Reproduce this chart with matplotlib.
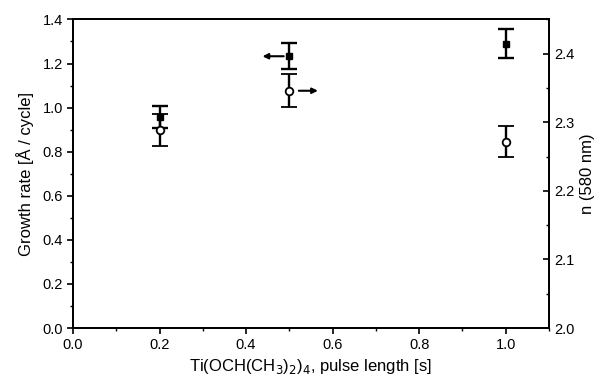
import matplotlib
matplotlib.use("Agg")
import matplotlib.pyplot as plt
from matplotlib.ticker import MultipleLocator, FormatStrFormatter

plt.rcParams['font.family'] = ['Liberation Sans', 'DejaVu Sans']
plt.rcParams['font.size'] = 10.5

# Pulse length of the Ti precursor [s]
pulse = [0.2, 0.5, 1.0]
# Growth rate [Å/cycle] with errors
growth = [0.958, 1.233, 1.29]
growth_err = [0.05, 0.06, 0.065]
# Refractive index at 580 nm with errors
n_idx = [2.289, 2.346, 2.272]
n_err = [0.023, 0.024, 0.022]

fig = plt.figure(figsize=(5.98, 3.81), dpi=100)
ax = fig.add_axes([0.122, 0.139, 0.796, 0.810])
ax2 = ax.twinx()

ax.errorbar(pulse, growth, yerr=growth_err, fmt='s', color='black',
            ms=5, capsize=5.5, capthick=1.7, elinewidth=1.7, zorder=3)
ax2.errorbar(pulse, n_idx, yerr=n_err, fmt='o', color='black', mfc='white',
             mec='black', mew=1.3, ms=5.5, capsize=5.5, capthick=1.7,
             elinewidth=1.7, zorder=3)

ax.set_xlim(0.0, 1.1)
ax.set_ylim(0.0, 1.4)
ax2.set_ylim(2.0, 2.45)

ax.xaxis.set_major_locator(MultipleLocator(0.2))
ax.xaxis.set_minor_locator(MultipleLocator(0.1))
ax.yaxis.set_major_locator(MultipleLocator(0.2))
ax.yaxis.set_minor_locator(MultipleLocator(0.1))
ax2.set_yticks([2.0, 2.1, 2.2, 2.3, 2.4])
ax2.yaxis.set_minor_locator(MultipleLocator(0.05))

for axis in (ax.xaxis, ax.yaxis, ax2.yaxis):
    axis.set_major_formatter(FormatStrFormatter('%.1f'))

ax.tick_params(axis='both', which='major', direction='out', length=4, width=1.2, pad=3)
ax.tick_params(axis='both', which='minor', direction='out', length=2.5, width=1.0)
ax.tick_params(top=False, which='both')
ax2.tick_params(axis='y', which='major', direction='in', length=4, width=1.2, pad=4)
ax2.tick_params(axis='y', which='minor', direction='in', length=2.5, width=1.0)

for a in (ax, ax2):
    for s in a.spines.values():
        s.set_linewidth(1.3)

ax.set_xlabel('Ti(OCH(CH$_3$)$_2$)$_4$, pulse length [s]', fontsize=12, labelpad=4)
ax.set_ylabel('Growth rate [Å / cycle]', fontsize=12, labelpad=6)
ax2.set_ylabel('n (580 nm)', fontsize=12, labelpad=4)

# Arrows indicating which axis each series belongs to
ax.annotate('', xy=(0.438, growth[1]), xytext=(0.487, growth[1]),
            arrowprops=dict(arrowstyle='-|>', color='black', lw=1.5,
                            mutation_scale=8, shrinkA=0, shrinkB=0))
ax2.annotate('', xy=(0.566, n_idx[1]), xytext=(0.522, n_idx[1]),
             arrowprops=dict(arrowstyle='-|>', color='black', lw=1.5,
                             mutation_scale=8, shrinkA=0, shrinkB=0))

fig.savefig('out.png', dpi=100)
